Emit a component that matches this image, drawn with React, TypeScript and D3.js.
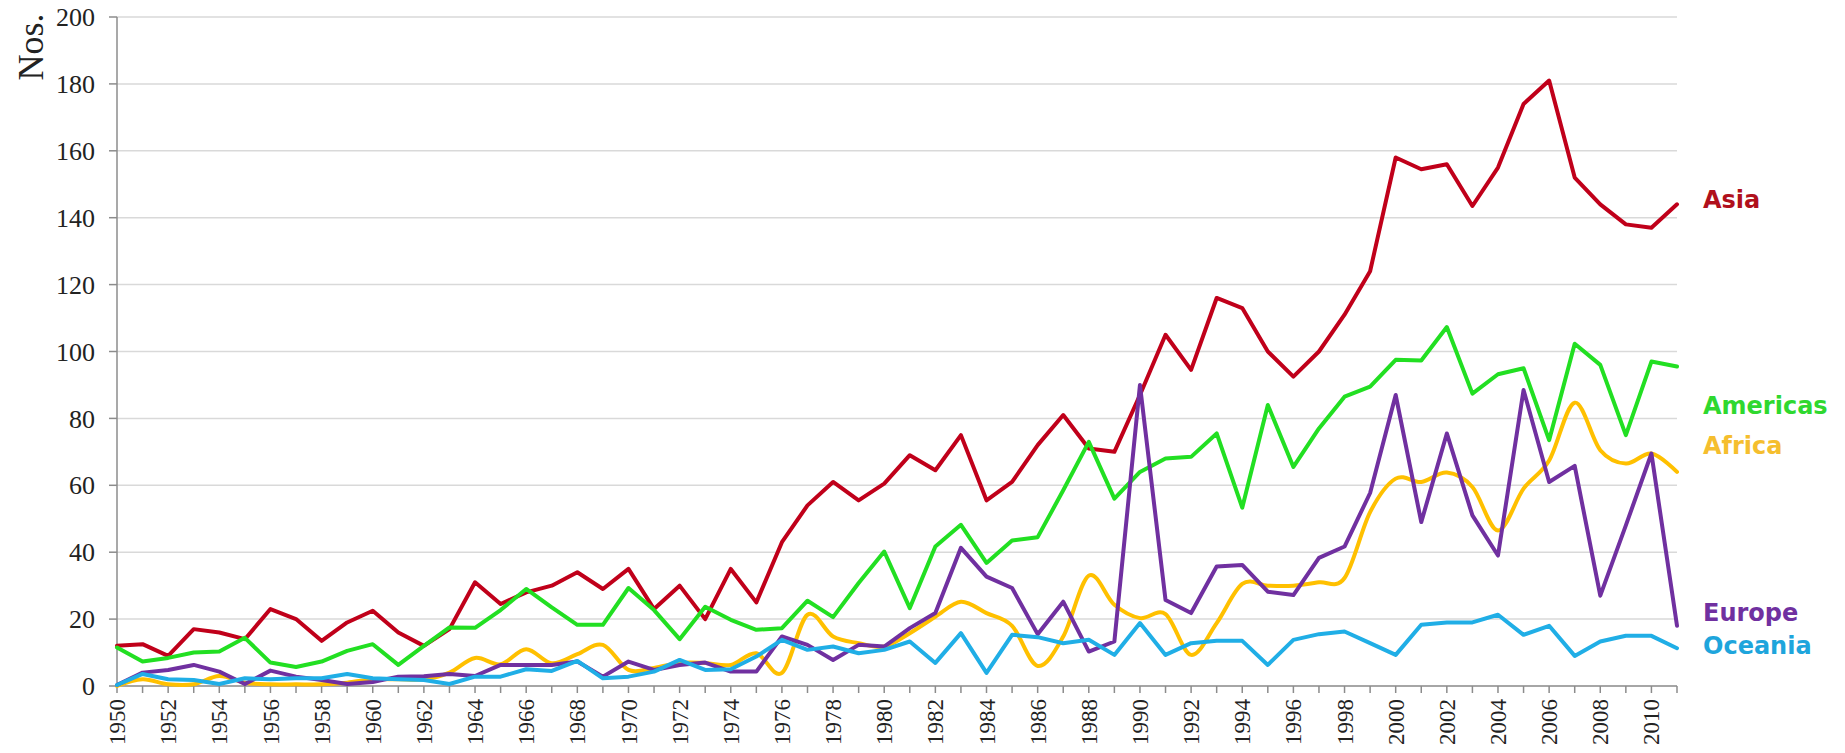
import React from 'react';
import * as d3 from 'd3';

const years: number[] = d3.range(1950, 2012);

const asia = [12, 12.5, 9, 17, 16, 14, 23, 20, 13.5, 19, 22.5, 16, 12, 17, 31, 24.5, 28, 30, 34, 29,
  35, 23, 30, 20, 35, 25, 43, 54, 61, 55.5, 60.5, 69, 64.5, 75, 55.5, 61, 72, 81, 71, 70,
  87, 105, 94.5, 116, 113, 100, 92.5, 100, 111, 124, 158, 154.5, 156, 143.5, 155, 174, 181, 152, 144, 138,
  137, 144];
const americas = [11.5, 7.3, 8.4, 10, 10.3, 14.4, 7, 5.7, 7.3, 10.5, 12.5, 6.3, 12, 17.5, 17.4, 22.7, 29, 23.5, 18.3, 18.3,
  29.3, 22.7, 14, 23.7, 19.8, 16.8, 17.3, 25.5, 20.6, 30.8, 40.2, 23.3, 41.7, 48.2, 36.8, 43.5, 44.5, 58.5, 73, 56,
  64, 68, 68.5, 75.5, 53.3, 84, 65.5, 77, 86.5, 89.5, 97.5, 97.3, 107.3, 87.4, 93.2, 95, 73.5, 102.3, 96, 75,
  97, 95.5];
const africa = [0, 2, 0.5, 0.5, 3, 1, 0.5, 0.5, 0.5, 1, 2, 2, 2, 4, 8.4, 6.5, 11, 6.8, 9.5, 12.3,
  4.8, 5.4, 6.9, 6.9, 6.3, 9.8, 3.9, 21.3, 14.8, 12.8, 11.8, 15.8, 20.7, 25.2, 21.8, 18, 6, 14.8, 33, 24.3,
  20.3, 21.5, 9.3, 18.8, 30.5, 30, 30, 31, 32.3, 52, 62, 61, 63.8, 59.5, 46.5, 59, 67.4, 84.7, 70.5, 66.5,
  69.5, 64];
const europe = [0.3, 4, 4.8, 6.3, 4.3, 0.6, 4.6, 2.8, 1.8, 0.6, 1.2, 2.8, 2.9, 3.6, 3, 6.3, 6.3, 6.3, 7.3, 2.8,
  7.3, 4.8, 6.3, 7, 4.3, 4.3, 14.8, 12.3, 7.8, 12.3, 11.8, 17.3, 21.8, 41.3, 32.7, 29.3, 15.5, 25.2, 10.3, 13.3,
  90, 25.7, 21.8, 35.7, 36.2, 28.2, 27.2, 38.3, 41.7, 57.7, 87, 49, 75.5, 51, 39, 88.5, 61, 65.8, 27, 48,
  69.5, 18];
const oceania = [0.3, 3.6, 2, 1.8, 0.6, 2.3, 2, 2.3, 2.3, 3.6, 2.3, 2, 1.8, 0.6, 2.8, 2.8, 5, 4.5, 7.5, 2.3,
  2.8, 4.3, 7.8, 4.8, 5, 8.8, 13.8, 10.8, 11.8, 9.8, 10.8, 13.3, 6.9, 15.8, 3.9, 15.3, 14.6, 12.8, 13.8, 9.3,
  18.8, 9.3, 12.8, 13.5, 13.5, 6.3, 13.8, 15.5, 16.3, 12.8, 9.3, 18.3, 19, 19, 21.3, 15.3, 18, 9, 13.3, 15,
  15, 11.3];

const yTicks = [0, 20, 40, 60, 80, 100, 120, 140, 160, 180, 200];
const xLabelYears = years.filter((y) => y % 2 === 0);

const seriesList = [
  { name: 'Asia', values: asia, color: '#C0001A', labelColor: '#B0101C', labelY: 200, smooth: false },
  { name: 'Americas', values: americas, color: '#22DF22', labelColor: '#2FD82F', labelY: 406, smooth: false },
  { name: 'Africa', values: africa, color: '#FFC000', labelColor: '#F5BE2E', labelY: 446, smooth: true },
  { name: 'Europe', values: europe, color: '#7030A0', labelColor: '#7030A0', labelY: 613, smooth: false },
  { name: 'Oceania', values: oceania, color: '#20AEE6', labelColor: '#1EA5DC', labelY: 646, smooth: false },
];

export default function App() {
  const W = 1845, H = 753;
  const x = d3.scaleLinear().domain([1950, 2011]).range([117, 1677]);
  const y = d3.scaleLinear().domain([0, 200]).range([686, 17]);
  const serif = '"Liberation Serif", "Times New Roman", serif';

  const mkLine = (smooth: boolean) =>
    d3.line<number>()
      .x((_, i) => x(years[i]))
      .y((d) => y(d))
      .curve(smooth ? d3.curveCardinal.tension(0) : d3.curveLinear);

  return (
    <svg width={W} height={H} style={{ position: 'absolute', left: 0, top: 0, background: '#fff' }}>
      <rect x={0} y={0} width={W} height={H} fill="#fff" />
      {yTicks.filter((t) => t > 0).map((t) => (
        <line key={'g' + t} x1={x(1950)} x2={x(2011)} y1={y(t)} y2={y(t)} stroke="#d9d9d9" strokeWidth={1.5} />
      ))}
      <line x1={x(1950)} x2={x(1950)} y1={y(200)} y2={y(0)} stroke="#8c8c8c" strokeWidth={1.5} />
      {yTicks.map((t) => (
        <g key={'yt' + t}>
          <line x1={x(1950) - 8} x2={x(1950)} y1={y(t)} y2={y(t)} stroke="#8c8c8c" strokeWidth={1.5} />
          <text x={95} y={y(t)} dy="0.35em" textAnchor="end" fontFamily={serif} fontSize={26} fill="#222">{t}</text>
        </g>
      ))}
      <text transform={`translate(30,47) rotate(-90)`} textAnchor="middle" dy="0.35em" fontFamily={serif} fontSize={36} fill="#222">Nos.</text>
      <line x1={x(1950)} x2={x(2011)} y1={y(0)} y2={y(0)} stroke="#a6a6a6" strokeWidth={2} />
      {years.map((yr) => (
        <line key={'xt' + yr} x1={x(yr)} x2={x(yr)} y1={y(0)} y2={y(0) + 7} stroke="#8c8c8c" strokeWidth={1.5} />
      ))}
      {xLabelYears.map((yr) => (
        <text key={'xl' + yr} transform={`translate(${x(yr)},699) rotate(-90)`} textAnchor="end" dy="0.35em"
          fontFamily={serif} fontSize={23} fill="#222">{yr}</text>
      ))}
      {seriesList.map((s) => (
        <path key={s.name} d={mkLine(s.smooth)(s.values) || ''} fill="none" stroke={s.color} strokeWidth={4}
          strokeLinejoin="round" strokeLinecap="round" />
      ))}
      {seriesList.map((s) => (
        <text key={'l' + s.name} x={1703} y={s.labelY} dy="0.35em" fontFamily='"DejaVu Sans", sans-serif'
          fontWeight="bold" fontSize={24} fill={s.labelColor}>{s.name}</text>
      ))}
    </svg>
  );
}
